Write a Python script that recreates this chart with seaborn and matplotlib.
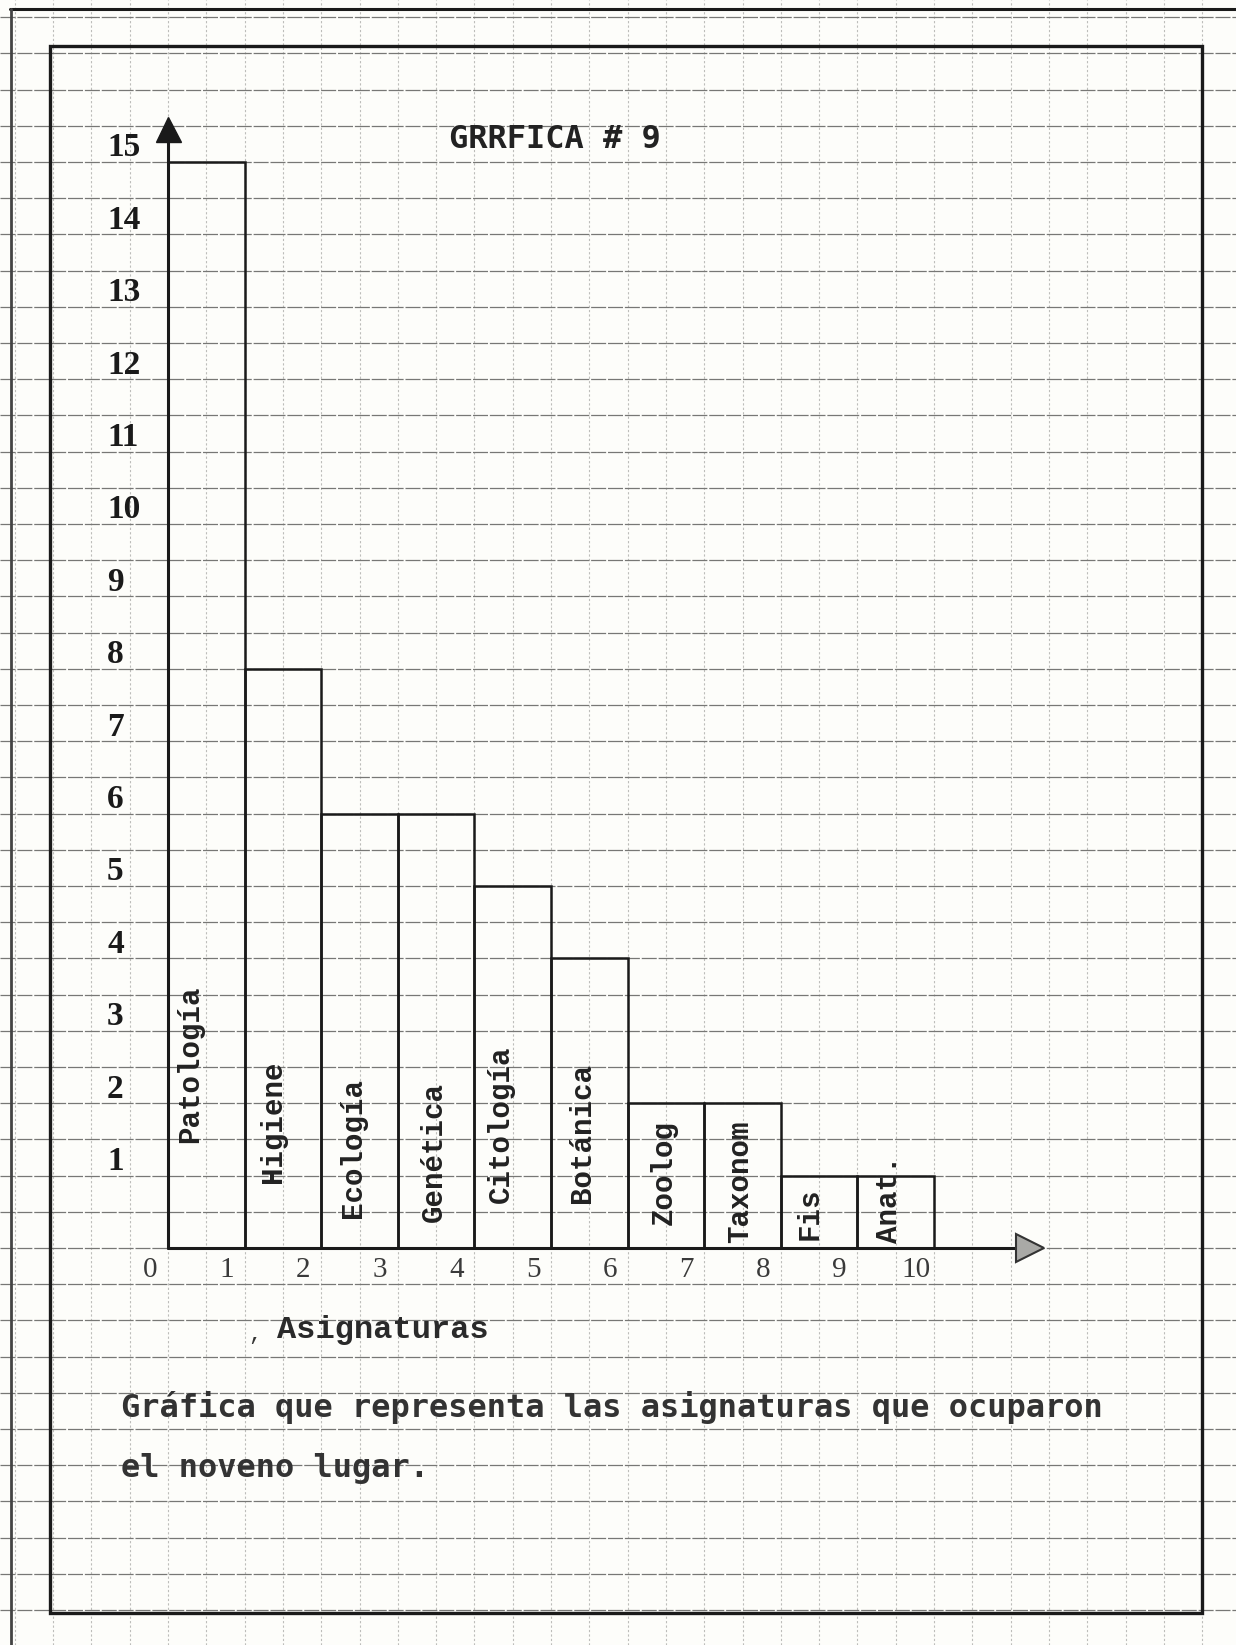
import numpy as np
import matplotlib
matplotlib.use("Agg")
import matplotlib.pyplot as plt
import matplotlib.transforms as mtransforms
from matplotlib.patches import Rectangle
from matplotlib.lines import Line2D
import seaborn as sns

# ---------------- data ----------------
asignaturas = ["Patología", "Higiene", "Ecología", "Genética", "Citología",
               "Botánica", "Zoolog", "Taxonom", "Fis", "Anat."]
frecuencia = [15, 8, 6, 6, 5, 4, 2, 2, 1, 1]
y_ticks = list(range(1, 16))
x_ticks = list(range(0, 11))
titulo = "GRRFICA # 9"
eje_x = "Asignaturas"
pie_1 = "Gráfica que representa las asignaturas que ocuparon"
pie_2 = "el noveno lugar."

# ---------------- layout (hand-typed label placement) ----------------
label_bottom = [1.45, 0.90, 0.41, 0.36, 0.62, 0.62, 0.32, 0.07, 0.11, 0.07]
label_dx = [-0.21, -0.13, -0.08, -0.03, -0.16, -0.09, -0.03, -0.03, -0.13, -0.09]

W, H = 1236, 1645
X0, PXU = 168.0, 76.6     # pixel of x=-0.5 (y axis), pixels per category
Y0, PYU = 1248.0, 72.4    # pixel of y=0 baseline, pixels per unit

sns.set_theme(style="white")
plt.rcParams["font.family"] = ["DejaVu Sans"]

paper = "#fdfdfa"
ink = "#1a1a1a"

fig = plt.figure(figsize=(W / 100, H / 100), dpi=100, facecolor=paper)
ax = fig.add_axes([0, 0, 1, 1])
ax.set_facecolor(paper)

sns.barplot(x=asignaturas, y=frecuencia, order=asignaturas, ax=ax,
            width=1.0, fill=False, color=ink, linewidth=1.8,
            errorbar=None)
for p in ax.patches:
    p.set_edgecolor(ink)
    p.set_facecolor("none")
    p.set_zorder(3)

xlim = (-0.5 - X0 / PXU, -0.5 + (W - X0) / PXU)
ylim = (-(H - Y0) / PYU, Y0 / PYU)
ax.set_xlim(*xlim)
ax.set_ylim(*ylim)

# graph paper grid
ax.set_xticks(np.arange(np.ceil(xlim[0] * 2) / 2, xlim[1], 0.5))
ax.set_yticks(np.arange(np.ceil(ylim[0] * 2) / 2, ylim[1], 0.5))
ax.set_xticklabels([])
ax.set_yticklabels([])
ax.tick_params(length=0)
ax.xaxis.grid(True, color="#bdbdba", linewidth=0.8, linestyle=(0, (2, 2)))
ax.yaxis.grid(True, color="#777775", linewidth=0.9, linestyle=(0, (12, 1.5)))
ax.set_axisbelow(True)
for s in ax.spines.values():
    s.set_visible(False)
ax.set_xlabel("")
ax.set_ylabel("")

# axes of the hand-drawn chart
y_top = (Y0 - 117) / PYU
x_end = (1047 - X0) / PXU - 0.5
ax.plot([-0.5, -0.5], [0, y_top - 0.2], color=ink, lw=2.2, zorder=4,
        solid_capstyle="butt")
ax.plot([-0.5, x_end - 0.3], [0, 0], color=ink, lw=2.2, zorder=4)
ax.plot([-0.5], [y_top - 0.17], marker="^", markersize=18, color=ink,
        markeredgecolor=ink, zorder=5)
ax.plot([x_end - 0.22], [0.0], marker=">", markersize=20,
        markerfacecolor="#a9a9a6", markeredgecolor="#333333",
        markeredgewidth=1.5, zorder=5)

# y tick labels (typed slightly above their values)
up = mtransforms.ScaledTranslation(0, 14 / 100, fig.dpi_scale_trans)
x_lab = -0.5 - (X0 - 107) / PXU
for v in y_ticks:
    ax.text(x_lab, v, str(v), transform=ax.transData + up,
            ha="left", va="center", fontsize=24, fontweight="bold",
            family="Liberation Serif", color=ink)

# x tick labels at bar boundaries, typed slightly to the left
left = mtransforms.ScaledTranslation(-18 / 100, 0, fig.dpi_scale_trans)
for i in x_ticks:
    ax.text(i - 0.5, -0.30, str(i), transform=ax.transData + left,
            ha="center", va="center", fontsize=21,
            family="Liberation Serif", color="#3a3a3a")

# category names inside bars
for i, (name, b, dx) in enumerate(zip(asignaturas, label_bottom, label_dx)):
    ax.text(i + dx, b, name, rotation=90, ha="center", va="bottom",
            fontsize=21, family="Liberation Mono", fontweight="bold",
            color="#222222", zorder=6)

# frames
def fx(x):
    return x / W

def fy(y):
    return 1 - y / H

fig.patches.append(Rectangle((fx(50), fy(1613)), fx(1202) - fx(50),
                             fy(46) - fy(1613), transform=fig.transFigure,
                             fill=False, edgecolor=ink, linewidth=2.4,
                             zorder=10))
fig.lines.append(Line2D([fx(10), fx(W)], [fy(9), fy(9)],
                        transform=fig.transFigure, color=ink, lw=2.2))
fig.lines.append(Line2D([fx(11), fx(11)], [fy(9), fy(H)],
                        transform=fig.transFigure, color="#444444", lw=2.0))

# texts
fig.text(fx(555), fy(140), titulo, ha="center", va="center", fontsize=23,
         family="DejaVu Sans Mono", fontweight="bold", color="#222222")
fig.text(fx(255), fy(1334), ",", ha="center", va="center", fontsize=16,
         family="Liberation Mono", color="#333333")
fig.text(fx(277), fy(1330), eje_x, ha="left", va="center", fontsize=23,
         family="Liberation Mono", fontweight="bold", color="#2a2a2a")
fig.text(fx(121), fy(1407), pie_1, ha="left", va="center", fontsize=23,
         family="DejaVu Sans Mono", fontweight="bold", color="#333333")
fig.text(fx(121), fy(1469), pie_2, ha="left", va="center", fontsize=23,
         family="DejaVu Sans Mono", fontweight="bold", color="#333333")

fig.savefig("out.png", dpi=100, facecolor=paper)
